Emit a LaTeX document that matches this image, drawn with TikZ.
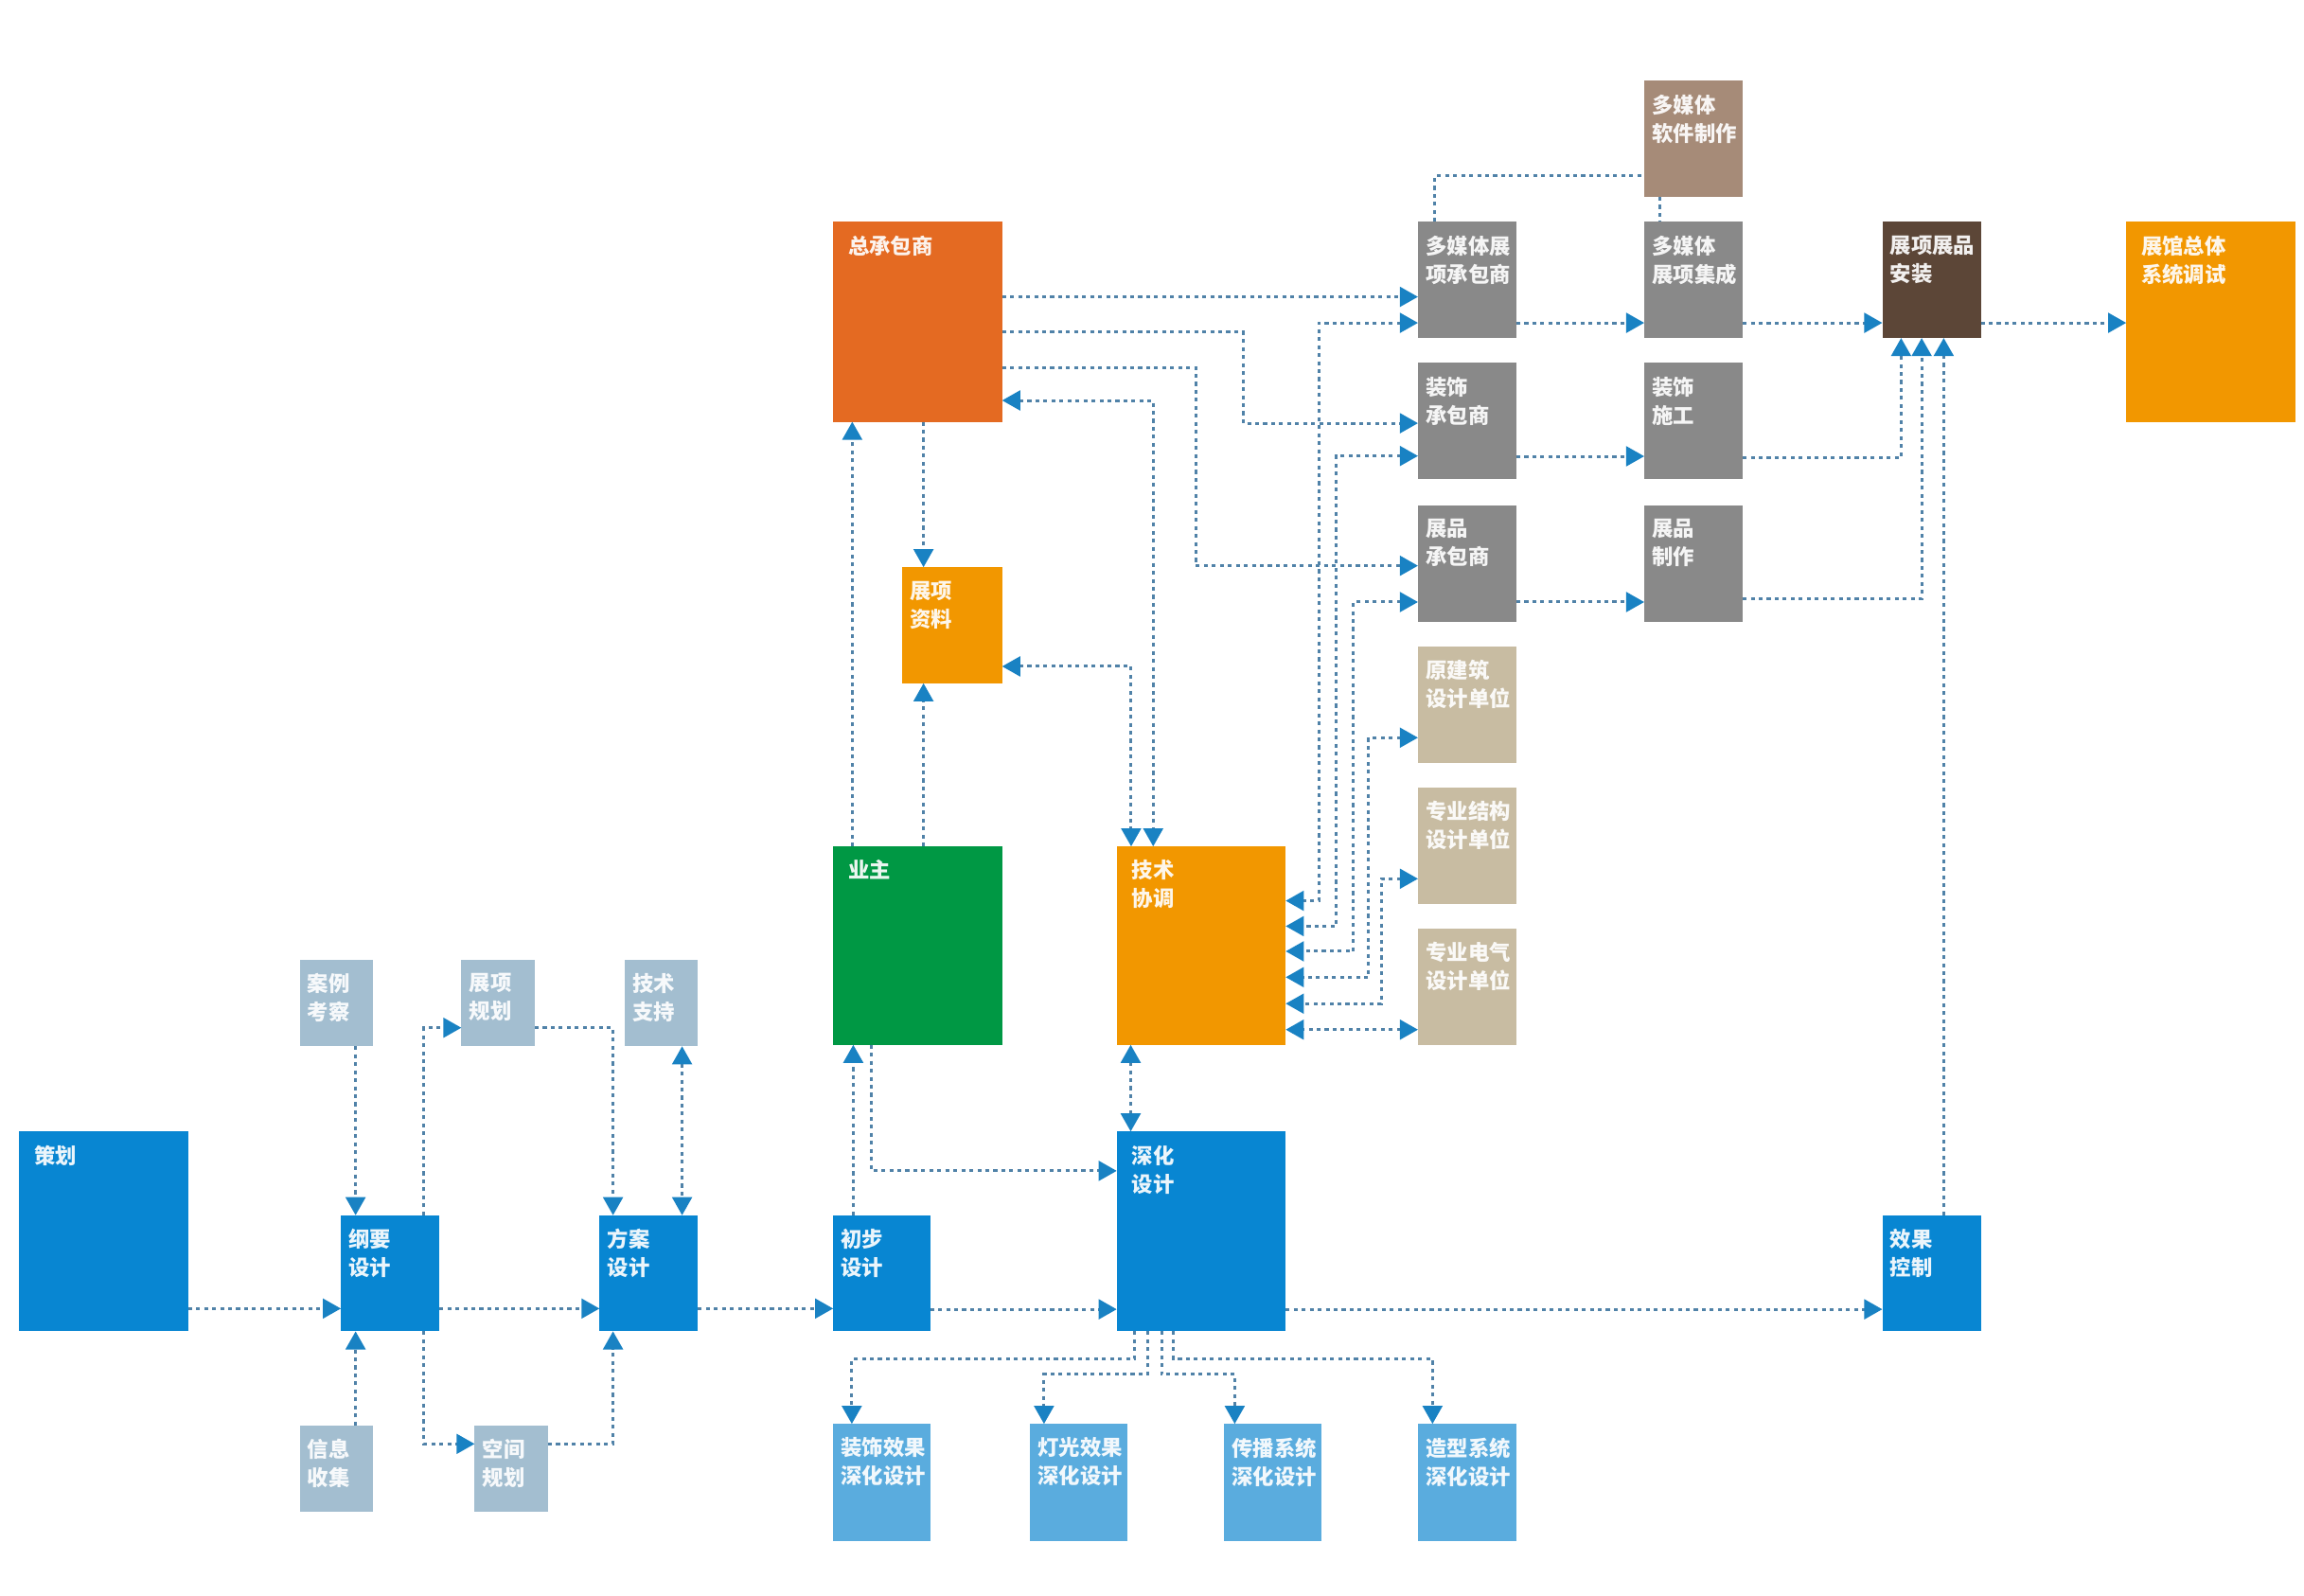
\documentclass[tikz,border=0pt]{standalone}
\usepackage{fontspec}
\newfontfamily\cjk{Noto Sans CJK SC}
\usetikzlibrary{arrows.meta,fit}
\definecolor{cBlue}{RGB}{8,134,210}
\definecolor{cGB}{RGB}{163,190,208}
\definecolor{cLB}{RGB}{90,172,222}
\definecolor{cOR}{RGB}{228,106,34}
\definecolor{cOrange}{RGB}{242,151,0}
\definecolor{cGreen}{RGB}{0,152,68}
\definecolor{cGray}{RGB}{137,137,137}
\definecolor{cTan}{RGB}{200,188,162}
\definecolor{cMocha}{RGB}{166,139,120}
\definecolor{cBrown}{RGB}{92,70,55}
\definecolor{lnc}{RGB}{80,130,168}
\definecolor{arc}{RGB}{25,130,195}
\newcommand\bx[8][]{%
  \node[box, fill=#3, fit={(#4,#5)(#6,#7)}] (#2) {};
  \node[lbl,#1] (#2t) at (#2.north west) {#8};
}
\begin{document}
\begin{tikzpicture}[x=0.02cm,y=-0.02cm,
  box/.style={inner sep=0pt, outer sep=0pt, draw=none},
  lbl/.style={anchor=north west, inner xsep=0.1cm, inner ysep=0.18cm, align=left,
    text=white, text opacity=0.92, font=\cjk\bfseries\fontsize{8.2}{11}\selectfont},
  big/.style={inner xsep=0.2cm},
  ln/.style={draw=lnc, line width=1.1pt, dash pattern=on 1.5pt off 1.6pt},
  ar/.style={ln, -{Triangle[length=7pt,width=7.6pt,color=arc]}},
  dar/.style={ln, {Triangle[length=7pt,width=7.6pt,color=arc]}-{Triangle[length=7pt,width=7.6pt,color=arc]}},
]
\fill[white] (0,0) rectangle (1568,1086);
\useasboundingbox (0,0) rectangle (1568,1086);

% boxes
\bx[big]{ch}{cBlue}{13}{770}{128}{906}{策划}
\bx{alk}{cGB}{204}{653}{254}{712}{案例\\考察}
\bx{xx}{cGB}{204}{970}{254}{1029}{信息\\收集}
\bx{gy}{cBlue}{232}{827}{299}{906}{纲要\\设计}
\bx{zxgh}{cGB}{314}{653}{364}{712}{展项\\规划}
\bx{kjgh}{cGB}{323}{970}{373}{1029}{空间\\规划}
\bx{jszc}{cGB}{425}{653}{475}{712}{技术\\支持}
\bx{fa}{cBlue}{408}{827}{475}{906}{方案\\设计}
\bx{cb}{cBlue}{567}{827}{633}{906}{初步\\设计}
\bx[big]{yz}{cGreen}{567}{576}{682}{711}{业主}
\bx[big]{zcb}{cOR}{567}{151}{682}{287}{总承包商}
\bx{zxzl}{cOrange}{614}{386}{682}{465}{展项\\资料}
\bx[big]{jsxt}{cOrange}{760}{576}{875}{711}{技术\\协调}
\bx[big]{sh}{cBlue}{760}{770}{875}{906}{深化\\设计}
\bx{zsxg}{cLB}{567}{969}{633}{1049}{装饰效果\\深化设计}
\bx{dgxg}{cLB}{701}{969}{767}{1049}{灯光效果\\深化设计}
\bx{cbxt}{cLB}{833}{969}{899}{1049}{传播系统\\深化设计}
\bx{zxxt}{cLB}{965}{969}{1032}{1049}{造型系统\\深化设计}
\bx{dmt}{cGray}{965}{151}{1032}{230}{多媒体展\\项承包商}
\bx{zscb}{cGray}{965}{247}{1032}{326}{装饰\\承包商}
\bx{zpcb}{cGray}{965}{344}{1032}{423}{展品\\承包商}
\bx{yjz}{cTan}{965}{440}{1032}{519}{原建筑\\设计单位}
\bx{zyjg}{cTan}{965}{536}{1032}{615}{专业结构\\设计单位}
\bx{zydq}{cTan}{965}{632}{1032}{711}{专业电气\\设计单位}
\bx{dmrj}{cMocha}{1119}{55}{1186}{134}{多媒体\\软件制作}
\bx{dmjc}{cGray}{1119}{151}{1186}{230}{多媒体\\展项集成}
\bx{zssg}{cGray}{1119}{247}{1186}{326}{装饰\\施工}
\bx{zpzz}{cGray}{1119}{344}{1186}{423}{展品\\制作}
\bx{az}{cBrown}{1281}{151}{1348}{230}{展项展品\\安装}
\bx[big]{zgzt}{cOrange}{1447}{151}{1562}{287}{展馆总体\\系统调试}
\bx{xgkz}{cBlue}{1281}{827}{1348}{906}{效果\\控制}

% left section
\draw[ar] (ch.east |- 0,890.5) -- (gy.west |- 0,890.5);
\draw[ar] (gy.east |- 0,890.5) -- (fa.west |- 0,890.5);
\draw[ar] (fa.east |- 0,890.5) -- (cb.west |- 0,890.5);
\draw[ar] (cb.east |- 0,891) -- (sh.west |- 0,891);
\draw[ar] (sh.east |- 0,891) -- (xgkz.west |- 0,891);
\draw[ar] (alk.south -| 242,0) -- (gy.north -| 242,0);
\draw[ar] (xx.north -| 242,0) -- (gy.south -| 242,0);
\draw[ar] (gy.north -| 288.5,0) |- (zxgh.west |- 0,699.4);
\draw[ar] (gy.south -| 288.5,0) |- (kjgh.west |- 0,982.6);
\draw[ar] (zxgh.east |- 0,699.4) -| (fa.north -| 417.2,0);
\draw[ar] (kjgh.east |- 0,982.6) -| (fa.south -| 417.2,0);
\draw[dar] (jszc.south -| 464.2,0) -- (fa.north -| 464.2,0);

% middle
\draw[ar] (cb.north -| 580.7,0) -- (yz.south -| 580.7,0);
\draw[ar] (yz.south -| 593,0) |- (sh.west |- 0,796.8);
\draw[ar] (yz.north -| 580,0) -- (zcb.south -| 580,0);
\draw[ar] (yz.north -| 628.5,0) -- (zxzl.south -| 628.5,0);
\draw[ar] (zcb.south -| 628.5,0) -- (zxzl.north -| 628.5,0);
\draw[dar] (zxzl.east |- 0,453.5) -| (jsxt.north -| 769.8,0);
\draw[dar] (zcb.east |- 0,272.5) -| (jsxt.north -| 784.8,0);
\draw[dar] (jsxt.south -| 769.5,0) -- (sh.north -| 769.5,0);

% right section
\draw[ar] (zcb.east |- 0,202) -- (dmt.west |- 0,202);
\draw[ar] (zcb.east |- 0,226) -| (846,288) -- (zscb.west |- 0,288);
\draw[ar] (zcb.east |- 0,250) -| (813.7,385) -- (zpcb.west |- 0,385);
\draw[dar] (dmt.west |- 0,219.7) -| (897.6,613) -- (jsxt.east |- 0,613);
\draw[dar] (zscb.west |- 0,310.3) -| (909.4,630.3) -- (jsxt.east |- 0,630.3);
\draw[dar] (zpcb.west |- 0,409.7) -| (921.2,647.4) -- (jsxt.east |- 0,647.4);
\draw[dar] (yjz.west |- 0,502) -| (931.5,665) -- (jsxt.east |- 0,665);
\draw[dar] (zyjg.west |- 0,598) -| (940.1,683) -- (jsxt.east |- 0,683);
\draw[dar] (zydq.west |- 0,700.7) -- (jsxt.east |- 0,700.7);

\draw[ln] (dmt.north -| 976.6,0) |- (dmrj.west |- 0,119.8);
\draw[ln] (dmrj.south -| 1129.5,0) -- (dmjc.north -| 1129.5,0);
\draw[ar] (dmt.east |- 0,219.7) -- (dmjc.west |- 0,219.7);
\draw[ar] (zscb.east |- 0,310.5) -- (zssg.west |- 0,310.5);
\draw[ar] (zpcb.east |- 0,409.7) -- (zpzz.west |- 0,409.7);
\draw[ar] (dmjc.east |- 0,219.7) -- (az.west |- 0,219.7);
\draw[ar] (zssg.east |- 0,311.4) -| (az.south -| 1293.8,0);
\draw[ar] (zpzz.east |- 0,407.6) -| (az.south -| 1307.8,0);
\draw[ar] (xgkz.north -| 1322.8,0) -- (az.south -| 1322.8,0);
\draw[ar] (az.east |- 0,219.7) -- (zgzt.west |- 0,219.7);

% bottom fan
\draw[ar] (sh.south -| 771.8,0) |- (579.7,924.9) -- (zsxg.north -| 579.7,0);
\draw[ar] (sh.south -| 780.9,0) |- (710.5,935.3) -- (dgxg.north -| 710.5,0);
\draw[ar] (sh.south -| 790.5,0) |- (840.3,935.3) -- (cbxt.north -| 840.3,0);
\draw[ar] (sh.south -| 798.8,0) |- (974.9,924.9) -- (zxxt.north -| 974.9,0);
\end{tikzpicture}
\end{document}
